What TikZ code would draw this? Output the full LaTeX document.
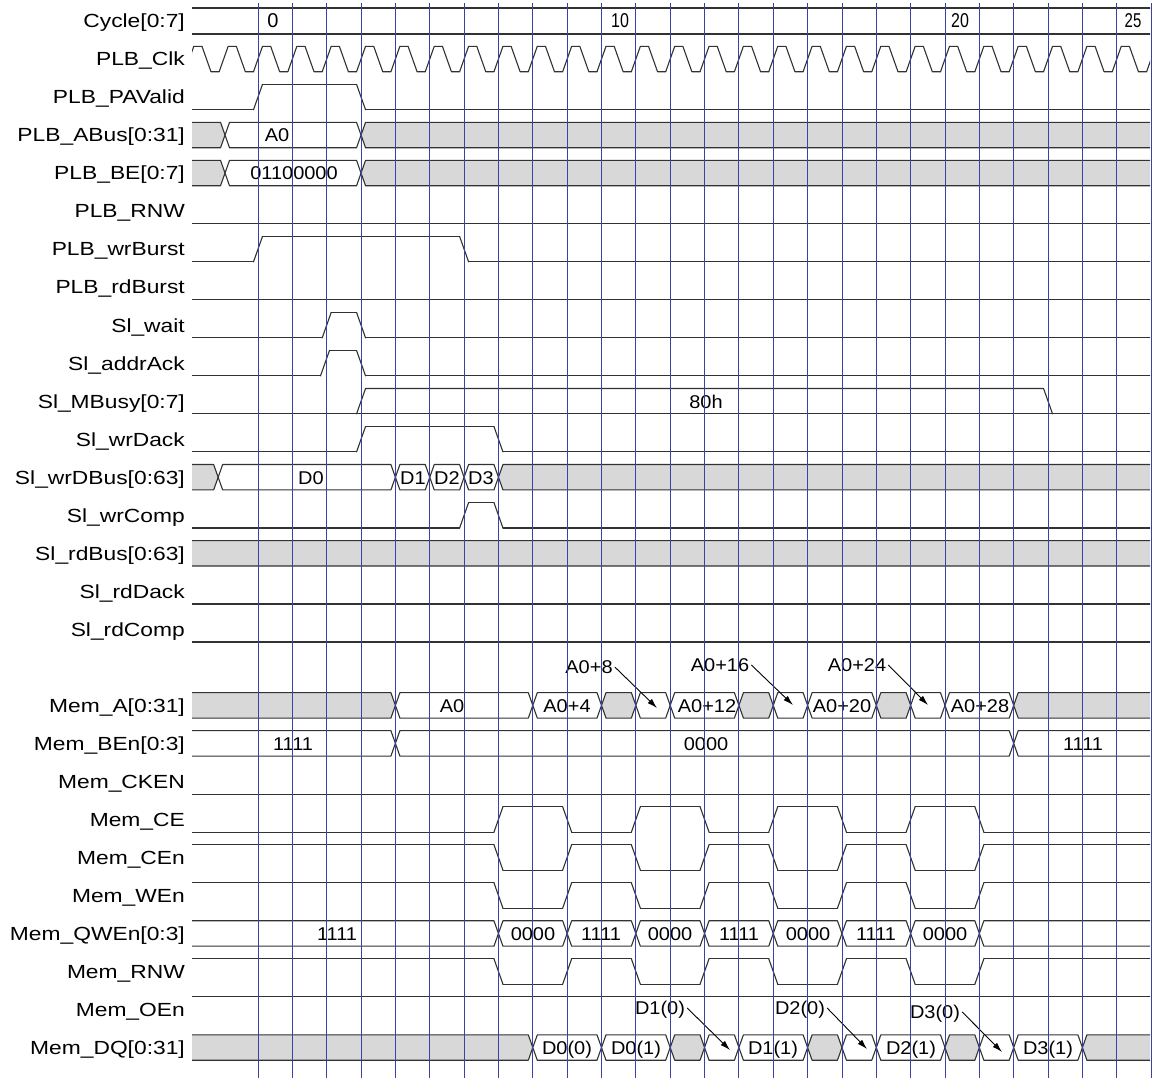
\documentclass[tikz,border=0pt]{standalone}
\usepackage{fontspec}
\setmainfont{Liberation Sans}
\usepackage{graphicx}
\usetikzlibrary{arrows.meta}
\definecolor{gridc}{RGB}{60,65,165}
\definecolor{sigc}{RGB}{50,50,50}
\definecolor{busg}{RGB}{216,216,216}
\newcommand\ry[1]{(21+38.02*(#1))}
\newcommand\tx[1]{(258+34.35*(#1))}
\newcommand\LS[1]{\scalebox{1.2}[1]{#1}}
\newcommand\VS[1]{\scalebox{1.08}[1]{#1}}
\tikzset{
 sig/.style={draw=sigc, line width=1.1pt, line join=round, line cap=round},
 lbl/.style={anchor=east, inner sep=0pt, text height=13.7pt, text depth=0pt, font=\fontsize{19}{22}\selectfont},
 val/.style={inner sep=2pt, text height=13.7pt, text depth=0pt, font=\fontsize{18.5}{21}\selectfont},
 cyc/.style={inner sep=0pt, text height=14pt, text depth=0pt, font=\fontsize{20}{22}\selectfont},
 gridl/.style={draw=gridc, line width=0.9pt},
 ann/.style={draw=black, line width=0.9pt, -{Latex[length=10pt,width=6pt]}},
}
\newcommand\hexseg[4]{%
 \filldraw[sig, fill=#4] ({\tx{#2}},{\ry{#1}}) -- ({\tx{#2}+4.5},{\ry{#1}-12.7}) -- ({\tx{#3}-4.5},{\ry{#1}-12.7}) -- ({\tx{#3}},{\ry{#1}}) -- ({\tx{#3}-4.5},{\ry{#1}+12.7}) -- ({\tx{#2}+4.5},{\ry{#1}+12.7}) -- cycle;}
\newcommand\flatsig[2]{\draw[sig] (150,{\ry{#1}+12.7-25.4*#2}) -- (1200,{\ry{#1}+12.7-25.4*#2});}
\newcommand\digi[3]{%
 \foreach \t [count=\i, remember=\t as \tp (initially -3)] in {#3,28} {
   \pgfmathsetmacro\lev{mod(#2+\i-1,2)}
   \draw[sig] ({\tx{\tp}+4.5},{\ry{#1}+12.7-25.4*\lev}) -- ({\tx{\t}-4.5},{\ry{#1}+12.7-25.4*\lev});
   \ifdim\t pt<27pt \draw[sig] ({\tx{\t}-4.5},{\ry{#1}+12.7-25.4*\lev}) -- ({\tx{\t}+4.5},{\ry{#1}-12.7+25.4*\lev}); \fi
 }}
\begin{document}
\begin{tikzpicture}[x=1pt,y=-1pt]
\useasboundingbox (0,0) rectangle (1157,1078);
\fill[white] (0,0) rectangle (1157,1078);
\begin{scope}
\clip (192,0) rectangle (1150,1078);
% Cycle row
\draw[sig] (150,8) -- (1200,8);
\draw[sig] (150,34) -- (1200,34);
% Clock
\foreach \k in {-2,...,26} {
 \draw[sig] ({\tx{\k}-4.5},{\ry{1}+12.7}) -- ({\tx{\k}+4.5},{\ry{1}-12.7}) -- ({\tx{\k+0.5}-4.5},{\ry{1}-12.7}) -- ({\tx{\k+0.5}+4.5},{\ry{1}+12.7}) -- ({\tx{\k+1}-4.5},{\ry{1}+12.7});
}
\digi{2}{0}{0,3}
\hexseg{3}{-3}{-0.96}{busg}\hexseg{3}{-0.96}{3}{white}\hexseg{3}{3}{28}{busg}
\hexseg{4}{-3}{-0.96}{busg}\hexseg{4}{-0.96}{3}{white}\hexseg{4}{3}{28}{busg}
\flatsig{5}{0}
\digi{6}{0}{0,6}
\flatsig{7}{0}
\digi{8}{0}{2,3}
\digi{9}{0}{1.95,3}
% MBusy
\draw[sig] (150,{\ry{10}+12.7}) -- (1200,{\ry{10}+12.7});
\draw[sig] ({\tx{3}-4.5},{\ry{10}+12.7}) -- ({\tx{3}+4.5},{\ry{10}-12.7}) -- ({\tx{23}-4.5},{\ry{10}-12.7}) -- ({\tx{23}+4.5},{\ry{10}+12.7});
\digi{11}{0}{3,7}
\hexseg{12}{-3}{-1.16}{busg}\hexseg{12}{-1.16}{4}{white}\hexseg{12}{4}{5}{white}\hexseg{12}{5}{6}{white}\hexseg{12}{6}{7}{white}\hexseg{12}{7}{28}{busg}
\digi{13}{0}{6,7}
\hexseg{14}{-3}{28}{busg}
\flatsig{15}{0}
\flatsig{16}{0}
% Mem_A
\hexseg{18}{-3}{4}{busg}\hexseg{18}{4}{8}{white}\hexseg{18}{8}{10}{white}\hexseg{18}{10}{11}{busg}\hexseg{18}{11}{12}{white}
\hexseg{18}{12}{14}{white}\hexseg{18}{14}{15}{busg}\hexseg{18}{15}{16}{white}\hexseg{18}{16}{18}{white}\hexseg{18}{18}{19}{busg}
\hexseg{18}{19}{20}{white}\hexseg{18}{20}{22}{white}\hexseg{18}{22}{28}{busg}
% Mem_BEn
\hexseg{19}{-3}{4}{white}\hexseg{19}{4}{22}{white}\hexseg{19}{22}{28}{white}
\flatsig{20}{0}
\digi{21}{0}{7,9,11,13,15,17,19,21}
\digi{22}{1}{7,9,11,13,15,17,19,21}
\digi{23}{1}{7,9,11,13,15,17,19,21}
\hexseg{24}{-3}{7}{white}\hexseg{24}{7}{9}{white}\hexseg{24}{9}{11}{white}\hexseg{24}{11}{13}{white}\hexseg{24}{13}{15}{white}
\hexseg{24}{15}{17}{white}\hexseg{24}{17}{19}{white}\hexseg{24}{19}{21}{white}\hexseg{24}{21}{28}{white}
\digi{25}{1}{7,9,11,13,15,17,19,21}
\flatsig{26}{1}
\hexseg{27}{-3}{8}{busg}\hexseg{27}{8}{10}{white}\hexseg{27}{10}{12}{white}\hexseg{27}{12}{13}{busg}\hexseg{27}{13}{14}{white}
\hexseg{27}{14}{16}{white}\hexseg{27}{16}{17}{busg}\hexseg{27}{17}{18}{white}\hexseg{27}{18}{20}{white}\hexseg{27}{20}{21}{busg}
\hexseg{27}{21}{22}{white}\hexseg{27}{22}{24}{white}\hexseg{27}{24}{28}{busg}
\end{scope}
% Labels
\foreach \n/\s in {0/Cycle[0:7], 1/PLB\_Clk, 2/PLB\_PAValid, 3/PLB\_ABus[0:31], 4/PLB\_BE[0:7], 5/PLB\_RNW, 6/PLB\_wrBurst, 7/PLB\_rdBurst, 8/Sl\_wait, 9/Sl\_addrAck, 10/Sl\_MBusy[0:7], 11/Sl\_wrDack, 12/Sl\_wrDBus[0:63], 13/Sl\_wrComp, 14/Sl\_rdBus[0:63], 15/Sl\_rdDack, 16/Sl\_rdComp, 18/Mem\_A[0:31], 19/Mem\_BEn[0:3], 20/Mem\_CKEN, 21/Mem\_CE, 22/Mem\_CEn, 23/Mem\_WEn, 24/Mem\_QWEn[0:3], 25/Mem\_RNW, 26/Mem\_OEn, 27/Mem\_DQ[0:31]}
 \node[lbl] (lab\n) at (185,{\ry{\n}}) {\LS{\s}};
% cycle numbers
\node[cyc] (c0) at (273,{\ry{0}}) {0};
\node[cyc] (c10) at (620,{\ry{0}}) {\scalebox{0.8}[1]{10}};
\node[cyc] (c20) at (960,{\ry{0}}) {\scalebox{0.8}[1]{20}};
\node[cyc] (c25) at (1133,{\ry{0}}) {\scalebox{0.75}[1]{25}};
% values
\node[val] (vab) at (277,{\ry{3}}) {\VS{A0}};
\node[val] (vbe) at (294,{\ry{4}}) {\VS{01100000}};
\node[val] (vmb) at (706,{\ry{10}}) {\VS{80h}};
\node[val] (vd0) at (311,{\ry{12}}) {\VS{D0}};
\node[val] (vd1) at (413,{\ry{12}}) {\VS{D1}};
\node[val] (vd2) at (447,{\ry{12}}) {\VS{D2}};
\node[val] (vd3) at (481,{\ry{12}}) {\VS{D3}};
\node[val] (ma0) at (452,{\ry{18}}) {\VS{A0}};
\node[val] (ma4) at (567,{\ry{18}}) {\VS{A0+4}};
\node[val] (ma12) at (707,{\ry{18}}) {\VS{A0+12}};
\node[val] (ma20) at (842,{\ry{18}}) {\VS{A0+20}};
\node[val] (ma28) at (980,{\ry{18}}) {\VS{A0+28}};
\node[val] (na8) at (589,667) {\VS{A0+8}};
\node[val] (na16) at (720,665) {\VS{A0+16}};
\node[val] (na24) at (857,665) {\VS{A0+24}};
\node[val] (be1) at (293,{\ry{19}}) {\VS{1111}};
\node[val] (be2) at (706,{\ry{19}}) {\VS{0000}};
\node[val] (be3) at (1083,{\ry{19}}) {\VS{1111}};
\node[val] (q1) at (337,{\ry{24}}) {\VS{1111}};
\node[val] (q2) at (533,{\ry{24}}) {\VS{0000}};
\node[val] (q3) at (601,{\ry{24}}) {\VS{1111}};
\node[val] (q4) at (670,{\ry{24}}) {\VS{0000}};
\node[val] (q5) at (739,{\ry{24}}) {\VS{1111}};
\node[val] (q6) at (808,{\ry{24}}) {\VS{0000}};
\node[val] (q7) at (876,{\ry{24}}) {\VS{1111}};
\node[val] (q8) at (945,{\ry{24}}) {\VS{0000}};
\node[val] (dq1) at (567,{\ry{27}}) {\VS{D0(0)}};
\node[val] (dq2) at (636,{\ry{27}}) {\VS{D0(1)}};
\node[val] (dq3) at (773,{\ry{27}}) {\VS{D1(1)}};
\node[val] (dq4) at (911,{\ry{27}}) {\VS{D2(1)}};
\node[val] (dq5) at (1048,{\ry{27}}) {\VS{D3(1)}};
\node[val] (nd1) at (660,1008) {\VS{D1(0)}};
\node[val] (nd2) at (800,1008) {\VS{D2(0)}};
\node[val] (nd3) at (935,1012) {\VS{D3(0)}};
% arrow targets
\coordinate (ta8) at (657,708);
\coordinate (ta16) at (793,705);
\coordinate (ta24) at (928,705);
\coordinate (td1) at (730,1050);
\coordinate (td2) at (867,1049);
\coordinate (td3) at (1002,1052);
\draw[ann] (na8.east) -- (ta8);
\draw[ann] (na16.east) -- (ta16);
\draw[ann] (na24.east) -- (ta24);
\draw[ann] (nd1.east) -- (td1);
\draw[ann] (nd2.east) -- (td2);
\draw[ann] (nd3.east) -- (td3);
% grid lines
\foreach \k in {0,...,26}
 \draw[gridl] ({\tx{\k}},3) -- ({\tx{\k}},1078);
\end{tikzpicture}
\end{document}
